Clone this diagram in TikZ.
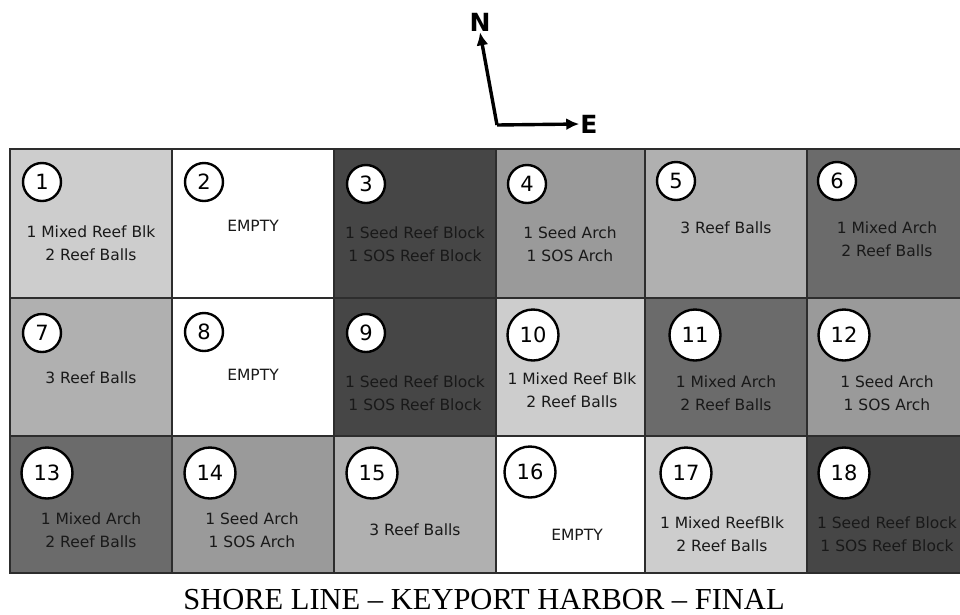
\documentclass[tikz,border=0pt]{standalone}
\usepackage{fontspec}
\usetikzlibrary{arrows.meta}
\newfontfamily\cellfont{DejaVu Sans}
\newfontfamily\titlefont{Liberation Serif}

\begin{document}
\begin{tikzpicture}[x=1pt,y=-1pt,yscale=1,xscale=1,
  cellbox/.style={draw={rgb, 255:red, 45; green, 45; blue, 45},line width=1.1pt},
  blank/.style={cellbox,fill=white},
  pale/.style={cellbox,fill={rgb, 255:red, 205; green, 205; blue, 205}},
  light/.style={cellbox,fill={rgb, 255:red, 176; green, 176; blue, 176}},
  mid/.style={cellbox,fill={rgb, 255:red, 154; green, 154; blue, 154}},
  deep/.style={cellbox,fill={rgb, 255:red, 107; green, 107; blue, 107}},
  dark/.style={cellbox,fill={rgb, 255:red, 70; green, 70; blue, 70}},
  tag/.style={circle,draw=black,fill=white,line width=2.4pt,inner sep=0pt,minimum size=38pt,
    font=\cellfont\fontsize{21}{21}\selectfont},
  bigtag/.style={tag,minimum size=51pt},
  note/.style={align=center,inner sep=0pt,text={rgb, 255:red, 25; green, 25; blue, 25},
    font=\cellfont\fontsize{15.5}{23}\selectfont},
  compass/.style={line width=3.4pt,-{Latex[length=13pt,width=12pt]}},
  ]
\useasboundingbox (0,0) rectangle (960,614);

%Row 1
\draw [pale]  (10,149) rectangle (172,298) ;
\draw [blank] (172,149) rectangle (334,298) ;
\draw [dark]  (334,149) rectangle (496,298) ;
\draw [mid]   (496,149) rectangle (645,298) ;
\draw [light] (645,149) rectangle (807,298) ;
\draw [deep]  (807,149) rectangle (961,298) ;
%Row 2
\draw [light] (10,298) rectangle (172,436) ;
\draw [blank] (172,298) rectangle (334,436) ;
\draw [dark]  (334,298) rectangle (496,436) ;
\draw [pale]  (496,298) rectangle (645,436) ;
\draw [deep]  (645,298) rectangle (807,436) ;
\draw [mid]   (807,298) rectangle (961,436) ;
%Row 3
\draw [deep]  (10,436) rectangle (172,573) ;
\draw [mid]   (172,436) rectangle (334,573) ;
\draw [light] (334,436) rectangle (496,573) ;
\draw [blank] (496,436) rectangle (645,573) ;
\draw [pale]  (645,436) rectangle (807,573) ;
\draw [dark]  (807,436) rectangle (961,573) ;

% Number circles
\node [tag] (n1) at (42,182) {1};
\node [tag] (n2) at (204,182) {2};
\node [tag] (n3) at (366,184) {3};
\node [tag] (n4) at (527,184) {4};
\node [tag] (n5) at (676,181) {5};
\node [tag] (n6) at (837,181) {6};
\node [tag] (n7) at (42,333) {7};
\node [tag] (n8) at (204,332) {8};
\node [tag] (n9) at (366,333) {9};
\node [bigtag] (n10) at (533,335) {10};
\node [bigtag] (n11) at (695,335) {11};
\node [bigtag] (n12) at (844,335) {12};
\node [bigtag] (n13) at (47,473) {13};
\node [bigtag] (n14) at (210,473) {14};
\node [bigtag] (n15) at (372,473) {15};
\node [bigtag] (n16) at (530,472) {16};
\node [bigtag] (n17) at (686,473) {17};
\node [bigtag] (n18) at (844,473) {18};

% Text Node
\node [note] (t1) at (91,243.5) {1 Mixed Reef Blk\\2 Reef Balls};
\node [note] (t2) at (253,226) {EMPTY};
\node [note] (t3) at (415,244) {1 Seed Reef Block\\1 SOS Reef Block};
\node [note] (t4) at (570,244) {1 Seed Arch\\1 SOS Arch};
\node [note] (t5) at (726,228) {3 Reef Balls};
\node [note] (t6) at (887,239.5) {1 Mixed Arch\\2 Reef Balls};
% Text Node
\node [note] (t7) at (91,378) {3 Reef Balls};
\node [note] (t8) at (253,375) {EMPTY};
\node [note] (t9) at (415,393.5) {1 Seed Reef Block\\1 SOS Reef Block};
\node [note] (t10) at (572,390) {1 Mixed Reef Blk\\2 Reef Balls};
\node [note] (t11) at (726,393.5) {1 Mixed Arch\\2 Reef Balls};
\node [note] (t12) at (887,393.5) {1 Seed Arch\\1 SOS Arch};
% Text Node
\node [note] (t13) at (91,530.5) {1 Mixed Arch\\2 Reef Balls};
\node [note] (t14) at (252,530.5) {1 Seed Arch\\1 SOS Arch};
\node [note] (t15) at (415,530) {3 Reef Balls};
\node [note] (t16) at (577,535) {EMPTY};
\node [note] (t17) at (722,534.5) {1 Mixed ReefBlk\\2 Reef Balls};
\node [note] (t18) at (887,534.5) {1 Seed Reef Block\\1 SOS Reef Block};

% Compass
\coordinate (corner) at (497,125);
\node [font=\cellfont\bfseries\fontsize{25}{25}\selectfont,inner sep=1pt] (north) at (480,22) {N};
\node [font=\cellfont\bfseries\fontsize{25}{25}\selectfont,inner sep=1pt] (east) at (589,124) {E};
\draw [compass] (corner) -- (north.south) ;
\draw [compass] (corner) -- (east.west) ;

% Title
\node [anchor=base,inner sep=0pt,font=\titlefont\fontsize{30.5}{30.5}\selectfont] (title) at (484,609) {SHORE LINE – KEYPORT HARBOR – FINAL};

\end{tikzpicture}
\end{document}
